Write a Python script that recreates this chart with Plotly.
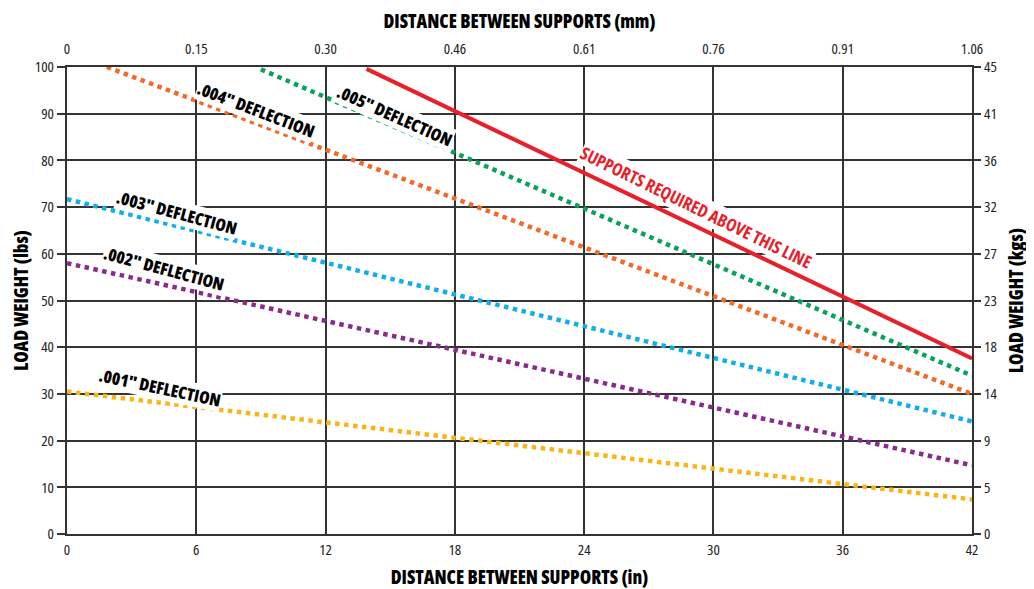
import plotly.graph_objects as go

# Data (inches, lbs) — straight-line endpoints
x_001 = [0, 42]
y_001 = [30.5, 7.4]
x_002 = [0, 42]
y_002 = [58.0, 14.7]
x_003 = [0, 42]
y_003 = [71.7, 24.1]
x_004 = [1.85, 42]
y_004 = [100.0, 30.0]
x_005 = [9.0, 42]
y_005 = [99.5, 33.9]
x_sup = [13.9, 42]
y_sup = [99.6, 37.6]

in_ticks = [0, 6, 12, 18, 24, 30, 36, 42]
mm_labels = ["0", "0.15", "0.30", "0.46", "0.61", "0.76", "0.91", "1.06"]
lbs_ticks = [0, 10, 20, 30, 40, 50, 60, 70, 80, 90, 100]
kg_labels = ["0", "5", "9", "14", "18", "23", "27", "32", "36", "41", "45"]

FONT = "Open Sans"
GRID = "#333333"


def cond(text, weight=400):
    return '<span style="font-stretch:75%%;font-weight:%d">%s</span>' % (weight, text)


fig = go.Figure()

series = [
    (x_001, y_001, "#fbb416"),
    (x_002, y_002, "#8a2a8c"),
    (x_003, y_003, "#12aee8"),
    (x_004, y_004, "#f26a2a"),
    (x_005, y_005, "#0aa25a"),
]
for xs, ys, col in series:
    fig.add_trace(go.Scatter(x=xs, y=ys, mode="lines",
                             line=dict(color=col, width=4.5, dash="4.5px,4.5px"),
                             showlegend=False, hoverinfo="skip"))
fig.add_trace(go.Scatter(x=x_sup, y=y_sup, mode="lines",
                         line=dict(color="#e8202a", width=4),
                         showlegend=False, hoverinfo="skip"))
# invisible trace to activate secondary axes
fig.add_trace(go.Scatter(x=[in_ticks[0], in_ticks[-1]], y=[lbs_ticks[0], lbs_ticks[-1]],
                         xaxis="x2", yaxis="y2", mode="markers",
                         marker=dict(opacity=0), showlegend=False, hoverinfo="skip"))

annots = [
    dict(x=4.3, y=31.4, text='.001" DEFLECTION', textangle=12),
    dict(x=4.5, y=56.8, text='.002" DEFLECTION', textangle=15),
    dict(x=5.1, y=68.9, text='.003" DEFLECTION', textangle=15),
    dict(x=8.75, y=90.8, text='.004" DEFLECTION', textangle=21),
    dict(x=15.2, y=89.7, text='.005" DEFLECTION', textangle=24),
]
for a in annots:
    fig.add_annotation(x=a["x"], y=a["y"], text=cond(a["text"], 800),
                       textangle=a["textangle"], showarrow=False,
                       font=dict(family=FONT, size=17, color="black"),
                       bgcolor="white", borderpad=0)
fig.add_annotation(x=29.2, y=70.0, text=cond("SUPPORTS REQUIRED ABOVE THIS LINE", 700),
                   textangle=26, showarrow=False,
                   font=dict(family=FONT, size=17.5, color="#e8202a"),
                   bgcolor="white", borderpad=0)

tick_font = dict(family=FONT, size=15, color="#222")
title_font = dict(family=FONT, size=18.5, color="black")

fig.update_layout(
    width=1034, height=589,
    margin=dict(l=59, r=70, t=59, b=63),
    paper_bgcolor="white", plot_bgcolor="white",
    xaxis=dict(range=[0, 42], tickvals=in_ticks, ticktext=[cond(str(v)) for v in in_ticks],
               showgrid=True, gridcolor=GRID, gridwidth=1.5,
               showline=True, linecolor=GRID, linewidth=2, mirror=True,
               zeroline=False, ticks="", tickfont=tick_font, automargin=False,
               ticklabelstandoff=1,
               title=dict(text=cond("DISTANCE BETWEEN SUPPORTS (in)", 800), font=title_font, standoff=13)),
    xaxis2=dict(range=[0, 42], overlaying="x", side="top", tickvals=in_ticks,
                ticktext=[cond(t) for t in mm_labels], showgrid=False, zeroline=False, ticks="",
                tickfont=tick_font, automargin=False, ticklabelstandoff=9,
                title=dict(text=cond("DISTANCE BETWEEN SUPPORTS (mm)", 800), font=title_font, standoff=11)),
    yaxis=dict(range=[0, 100], tickvals=lbs_ticks, ticktext=[cond(str(v)) for v in lbs_ticks],
               showgrid=True, gridcolor=GRID, gridwidth=1.5,
               showline=True, linecolor=GRID, linewidth=2, mirror=True,
               zeroline=False, ticks="outside", ticklen=8, tickwidth=1.5, tickcolor=GRID,
               tickfont=tick_font, automargin=False,
               title=dict(text=cond("LOAD WEIGHT (lbs)", 800), font=title_font, standoff=3)),
    yaxis2=dict(range=[0, 100], overlaying="y", side="right", tickvals=lbs_ticks,
                ticktext=[cond(t) for t in kg_labels], showgrid=False, zeroline=False,
                ticks="outside", ticklen=8, tickwidth=1.5, tickcolor=GRID,
                tickfont=tick_font, automargin=False,
                title=dict(text=cond("LOAD WEIGHT (kgs)", 800), font=title_font, standoff=13)),
)

fig.write_html("out.html")
